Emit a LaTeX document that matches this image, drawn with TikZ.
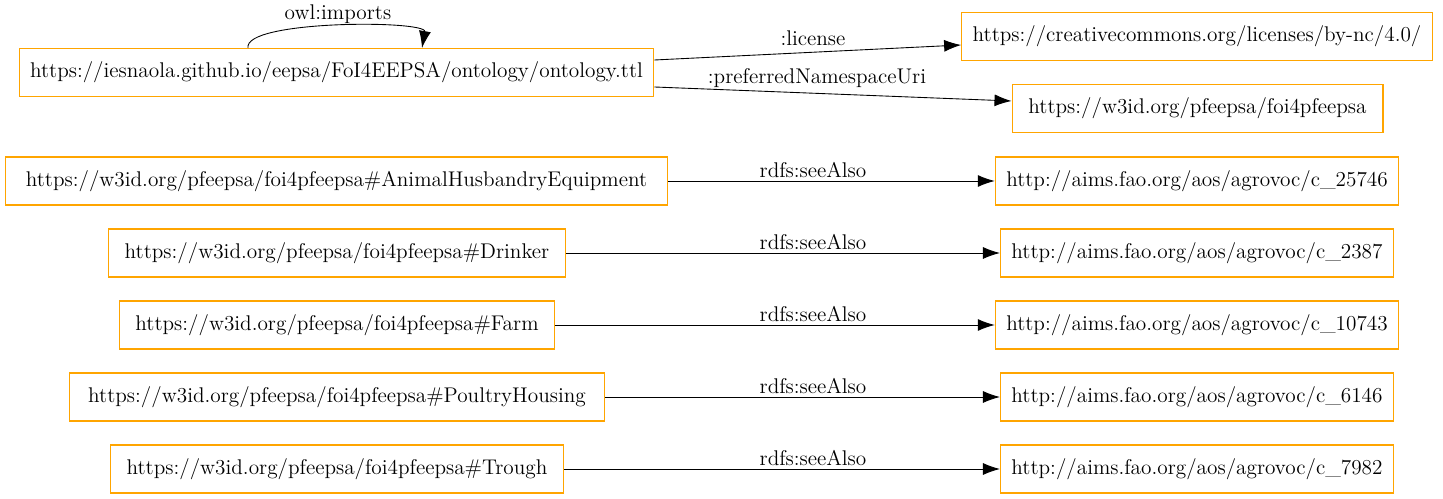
\documentclass[tikz,border=0pt]{standalone}
\usetikzlibrary{arrows.meta}
\definecolor{boxorange}{RGB}{255,165,0}
\begin{document}
\begin{tikzpicture}[x=0.02cm, y=-0.02cm,
font=\fontsize{12.1}{14}\selectfont,
% common options for the resource boxes:
res/.style = {rectangle, draw=boxorange, line width=0.6pt, inner xsep=0.22cm,
            minimum height=0.96cm},
% common options for the property labels:
lbl/.style = {inner sep=1pt},
link/.style = {-{Latex[length=0.34cm, width=0.24cm]}, line width=0.5pt}]
\useasboundingbox (0,0) rectangle (1443,499);
\node[res] (ont) at (336.5,72.5) {https://iesnaola.github.io/eepsa/FoI4EEPSA/ontology/ontology.ttl};
\node[res] (lic) at (1197,36.5) {https://creativecommons.org/licenses/by-nc/4.0/};
\node[res, minimum width=7.42cm] (ns) at (1197.5,108.5) {https://w3id.org/pfeepsa/foi4pfeepsa};
\node[res, minimum width=13.26cm] (ahe) at (336.5,181) {https://w3id.org/pfeepsa/foi4pfeepsa\#AnimalHusbandryEquipment};
\node[res, minimum width=9.16cm] (drinker) at (337,253) {https://w3id.org/pfeepsa/foi4pfeepsa\#Drinker};
\node[res, minimum width=8.72cm] (farm) at (337,325) {https://w3id.org/pfeepsa/foi4pfeepsa\#Farm};
\node[res, minimum width=10.72cm] (poultry) at (337,397) {https://w3id.org/pfeepsa/foi4pfeepsa\#PoultryHousing};
\node[res, minimum width=9.08cm] (trough) at (337,469) {https://w3id.org/pfeepsa/foi4pfeepsa\#Trough};
\node[res] (c25746) at (1197,181) {http://aims.fao.org/aos/agrovoc/c\_25746};
\node[res] (c2387) at (1197,253) {http://aims.fao.org/aos/agrovoc/c\_2387};
\node[res] (c10743) at (1197,325) {http://aims.fao.org/aos/agrovoc/c\_10743};
\node[res] (c6146) at (1197,397) {http://aims.fao.org/aos/agrovoc/c\_6146};
\node[res] (c7982) at (1197,469) {http://aims.fao.org/aos/agrovoc/c\_7982};
\coordinate (loopa) at (248,48);
\coordinate (loopb) at (422,48);
\draw[link] (loopa) to[out=100, in=80, looseness=0.42] (loopb) node[lbl] at (338,14) {owl:imports};
\draw[link] ([yshift=0.25cm]ont.east) to ([yshift=-0.17cm]lic.west) node[lbl] at (813,38) {:license};
\draw[link] ([yshift=-0.29cm]ont.east) to ([yshift=0.15cm]ns.west) node[lbl] at (817,78) {:preferredNamespaceUri};
\draw[link] (ahe.east) to (c25746.west) node[lbl] at (813,170) {rdfs:seeAlso};
\draw[link] (drinker.east) to (c2387.west) node[lbl] at (813,242) {rdfs:seeAlso};
\draw[link] (farm.east) to (c10743.west) node[lbl] at (813,314) {rdfs:seeAlso};
\draw[link] (poultry.east) to (c6146.west) node[lbl] at (813,386) {rdfs:seeAlso};
\draw[link] (trough.east) to (c7982.west) node[lbl] at (813,458) {rdfs:seeAlso};
\end{tikzpicture}
\end{document}
